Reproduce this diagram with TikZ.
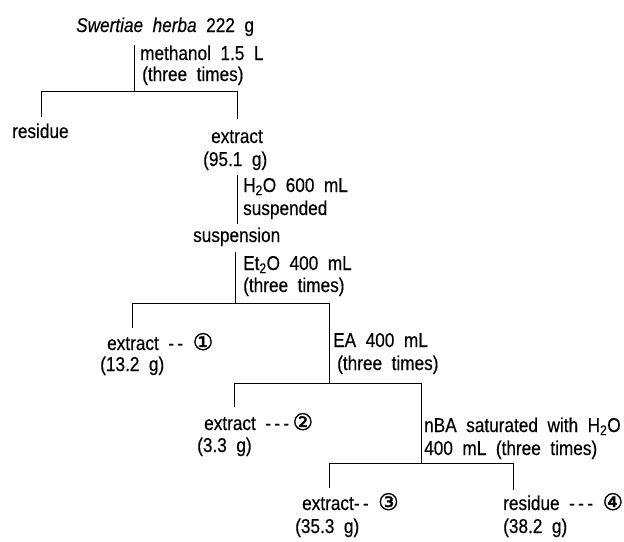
\documentclass[tikz,border=0pt]{standalone}
\usepackage{fontspec}
\setmainfont{Liberation Sans}[FakeStretch=0.86,WordSpace=2,FakeBold=0.4]
\newfontfamily\circfont{DejaVu Sans}[FakeBold=1.5]
\newcommand{\cnum}[1]{{\circfont\fontsize{23}{22}\selectfont #1}}

\begin{document}
\begin{tikzpicture}[
        x=1pt, y=-1pt,
        every node/.style={anchor=base west, inner sep=0pt, font=\fontsize{20}{22}\selectfont},
        flow/.style={draw, line width=0.8pt}
    ]
 \useasboundingbox (0,0) rectangle (624,541);
 \node (herb) at (76,32) {\textit{Swertiae herba} 222 g};
 \node (meoh) at (140,60) {methanol 1.5 L};
 \node (meohx) at (142,81) {(three times)};
 \coordinate (a0) at (134,45);
 \coordinate (a1) at (134,91);
 \coordinate (al) at (41,91);
 \coordinate (ar) at (237,91);
 \coordinate (alb) at (41,117);
 \coordinate (arb) at (237,119);
 \node (res) at (12,138) {residue};
 \node (ext) at (211,143) {extract};
 \node (extg) at (203,166) {(95.1 g)};
 \coordinate (b0) at (237,175);
 \coordinate (b1) at (237,224);
 \node (water) at (243,192) {H\textsubscript{2}O 600 mL};
 \node (susp) at (243,215) {suspended};
 \node (suspn) at (193,242) {suspension};
 \coordinate (c0) at (235,252);
 \coordinate (c1) at (235,303);
 \coordinate (cl) at (132,303);
 \coordinate (cr) at (329,303);
 \coordinate (clb) at (132,328);
 \node (ether) at (243,270) {Et\textsubscript{2}O 400 mL};
 \node (etherx) at (243,292) {(three times)};
 \node (frA) at (107,350) {extract -\,- \cnum{①}};
 \node (frAg) at (100,371) {(13.2 g)};
 \coordinate (d1) at (329,383);
 \coordinate (dl) at (234,383);
 \coordinate (dr) at (421,383);
 \coordinate (dlb) at (234,407);
 \node (ea) at (333,347) {EA 400 mL};
 \node (eax) at (337,370) {(three times)};
 \node (frB) at (204,430) {extract -\,-\,-\,\cnum{②}};
 \node (frBg) at (197,452) {(3.3 g)};
 \coordinate (e1) at (421,463);
 \coordinate (el) at (329,463);
 \coordinate (er) at (513,463);
 \coordinate (elb) at (329,488);
 \coordinate (erb) at (513,490);
 \node (nba) at (424,432) {nBA saturated with H\textsubscript{2}O};
 \node (nbax) at (424,455) {400 mL (three times)};
 \node (frC) at (302,510) {extract-\,- \cnum{③}};
 \node (frCg) at (295,533) {(35.3 g)};
 \node (frD) at (503,510) {residue -\,-\,- \cnum{④}};
 \node (frDg) at (503,533) {(38.2 g)};
 \draw[flow] (a0) -- (a1);
 \draw[flow] (alb) -- (al) -- (ar) -- (arb);
 \draw[flow] (b0) -- (b1);
 \draw[flow] (c0) -- (c1);
 \draw[flow] (clb) -- (cl) -- (cr) -- (d1);
 \draw[flow] (dlb) -- (dl) -- (dr) -- (e1);
 \draw[flow] (elb) -- (el) -- (er) -- (erb);
    \end{tikzpicture}
\end{document}
